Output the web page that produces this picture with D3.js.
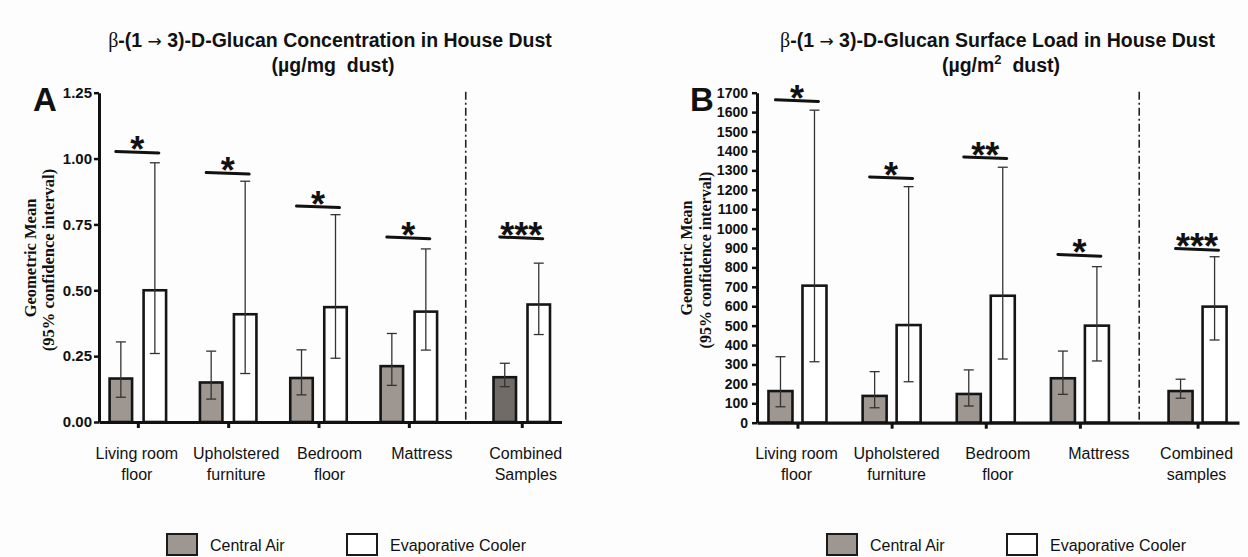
<!DOCTYPE html>
<html><head><meta charset="utf-8">
<script src="https://cdn.jsdelivr.net/npm/d3@7"></script>
<style>
html,body{margin:0;padding:0;background:#fdfdfd;}
svg{display:block;font-family:"Liberation Sans",Arial,sans-serif;}
</style></head>
<body>
<svg id="chart" width="1248" height="557"></svg>
<script>
// ---------- data ----------
const categoriesA = ["Living room|floor", "Upholstered|furniture", "Bedroom|floor", "Mattress", "Combined|Samples"];
const categoriesB = ["Living room|floor", "Upholstered|furniture", "Bedroom|floor", "Mattress", "Combined|samples"];
const seriesNames = ["Central Air", "Evaporative Cooler"];

const centralA    = [0.165, 0.150, 0.167, 0.212, 0.170];
const centralA_lo = [0.094, 0.087, 0.103, 0.139, 0.134];
const centralA_hi = [0.304, 0.269, 0.274, 0.336, 0.223];
const evapA       = [0.500, 0.409, 0.436, 0.419, 0.446];
const evapA_lo    = [0.260, 0.184, 0.242, 0.273, 0.332];
const evapA_hi    = [0.984, 0.914, 0.787, 0.657, 0.603];
const sigA        = ["*", "*", "*", "*", "***"];
const sigA_level  = [1.024, 0.944, 0.817, 0.699, 0.699];
const ticksA      = [0, 0.25, 0.5, 0.75, 1.0, 1.25];

const centralB    = [163, 138, 148, 229, 163];
const centralB_lo = [82, 77, 86, 146, 126];
const centralB_hi = [340, 263, 272, 369, 224];
const evapB       = [706, 503, 654, 500, 598];
const evapB_lo    = [314, 211, 328, 318, 426];
const evapB_hi    = [1610, 1216, 1316, 804, 855];
const sigB        = ["*", "*", "**", "*", "***"];
const sigB_level  = [1659, 1262, 1365, 862, 893];
const ticksB      = d3.range(0, 1701, 100);

// ---------- layout ----------
const slots = [0, 1, 2, 3, 4.25];   // group slot positions (gap before combined)
const dividerSlot = 3.63;

const svg = d3.select("#chart");
svg.append("rect").attr("width", 1248).attr("height", 557).attr("fill", "#fdfdfd");

function panel(cfg) {
  const g = svg.append("g");
  const x = d3.scaleLinear().domain([-0.43, 4.69]).range(cfg.xr);
  const y = d3.scaleLinear().domain([0, cfg.ymax]).range([cfg.y0, cfg.ytop]);

  // titles
  const t = g.append("text").attr("x", cfg.tx).attr("y", 47).attr("text-anchor", "middle")
    .attr("font-size", 19.5).attr("font-weight", "bold").attr("fill", "#111");
  t.append("tspan").attr("font-family", "Liberation Serif, serif").attr("font-weight", "normal").attr("font-size", 20).text("β");
  t.append("tspan").text("-(1 ");
  t.append("tspan").attr("font-weight", "normal").attr("font-family", "DejaVu Sans").attr("font-size", 17).text("→");
  t.append("tspan").text(" 3)-D-Glucan " + cfg.title);
  const t2 = g.append("text").attr("x", cfg.tx2).attr("y", 72).attr("text-anchor", "middle")
    .attr("font-size", 19.5).attr("font-weight", "bold").attr("fill", "#111").attr("xml:space", "preserve");
  cfg.unit(t2);

  // panel letter
  g.append("text").attr("x", cfg.lx).attr("y", 111).attr("font-size", 33).attr("font-weight", "bold")
    .attr("fill", "#111").text(cfg.letter);

  // y axis title
  const yl = g.append("g").attr("font-family", "Liberation Serif, Times New Roman, serif")
    .attr("font-weight", "bold").attr("font-size", cfg.ylfs).attr("fill", "#111");
  yl.append("text").attr("transform", `translate(${cfg.yl1},258) rotate(-90)`).attr("text-anchor", "middle").text("Geometric Mean");
  yl.append("text").attr("transform", `translate(${cfg.yl2},260) rotate(-90)`).attr("text-anchor", "middle").text("(95% confidence interval)");

  // divider
  g.append("line").attr("x1", x(dividerSlot)).attr("x2", x(dividerSlot))
    .attr("y1", cfg.ytop - 1).attr("y2", cfg.y0)
    .attr("stroke", "#222").attr("stroke-width", 1.6).attr("stroke-dasharray", "8,3,2,3");

  // bars
  const bw = cfg.bw, off = cfg.off;
  const series = [
    {v: cfg.c, lo: cfg.clo, hi: cfg.chi, dx: -off, fill: (i) => cfg.cfill(i)},
    {v: cfg.e, lo: cfg.elo, hi: cfg.ehi, dx: off, fill: () => "#ffffff"}
  ];
  series.forEach(s => {
    const gs = g.append("g");
    gs.selectAll("rect").data(s.v).join("rect")
      .attr("x", (d, i) => x(slots[i]) + s.dx - bw / 2)
      .attr("y", d => y(d))
      .attr("width", bw)
      .attr("height", d => y(0) - y(d))
      .attr("fill", (d, i) => s.fill(i))
      .attr("stroke", "#151515").attr("stroke-width", 2.6);
    const eb = gs.selectAll("g.eb").data(s.v).join("g").attr("class", "eb")
      .attr("stroke", "#333").attr("stroke-width", 1.3);
    eb.append("line").attr("x1", (d, i) => x(slots[i]) + s.dx).attr("x2", (d, i) => x(slots[i]) + s.dx)
      .attr("y1", (d, i) => y(s.lo[i])).attr("y2", (d, i) => y(s.hi[i]));
    eb.append("line").attr("x1", (d, i) => x(slots[i]) + s.dx - 5).attr("x2", (d, i) => x(slots[i]) + s.dx + 5)
      .attr("y1", (d, i) => y(s.hi[i])).attr("y2", (d, i) => y(s.hi[i]));
    eb.append("line").attr("x1", (d, i) => x(slots[i]) + s.dx - 5).attr("x2", (d, i) => x(slots[i]) + s.dx + 5)
      .attr("y1", (d, i) => y(s.lo[i])).attr("y2", (d, i) => y(s.lo[i]));
  });

  // significance
  const sg = g.append("g");
  cfg.sig.forEach((s, i) => {
    const cx = x(slots[i]);
    const yy = y(cfg.sigl[i]);
    sg.append("line").attr("x1", cx - 22).attr("x2", cx + 21).attr("y1", yy - 0.8).attr("y2", yy + 0.8)
      .attr("stroke", "#111").attr("stroke-width", 3).attr("stroke-linecap", "round");
    sg.append("text").attr("x", cx - 0.5).attr("y", yy + 10).attr("text-anchor", "middle")
      .attr("font-size", 36).attr("font-weight", "bold").attr("fill", "#111").text(s);
  });

  // y axis
  const ya = g.append("g").attr("transform", `translate(${cfg.xr[0]},0)`)
    .call(d3.axisLeft(y).tickValues(cfg.ticks).tickFormat(cfg.fmt).tickSize(5).tickSizeOuter(0).tickPadding(cfg.tpad));
  ya.select(".domain").attr("stroke", "#111").attr("stroke-width", 3);
  ya.selectAll(".tick line").attr("stroke", "#111").attr("stroke-width", 2.5);
  ya.selectAll(".tick text").attr("font-family", "Liberation Sans, Arial, sans-serif")
    .attr("font-size", cfg.tfs).attr("font-weight", "bold").attr("fill", "#111");

  // x axis
  const xa = g.append("g").attr("transform", `translate(0,${cfg.y0})`)
    .call(d3.axisBottom(x).tickValues(slots).tickFormat("").tickSize(6).tickSizeOuter(0));
  xa.select(".domain").attr("stroke", "#111").attr("stroke-width", 3.2);
  xa.selectAll(".tick line").attr("stroke", "#111").attr("stroke-width", 3);

  // category labels
  cfg.cats.forEach((c, i) => {
    const lines = c.split("|");
    const tx = g.append("text").attr("text-anchor", "middle").attr("font-size", 16).attr("fill", "#111");
    lines.forEach((l, k) => {
      tx.append("tspan").attr("x", x(slots[i]) + cfg.ldx[i]).attr("y", 459 + k * 20.5).text(l);
    });
  });

  // legend
  const lg = g.append("g").attr("font-size", 16).attr("fill", "#111");
  seriesNames.forEach((n, k) => {
    lg.append("rect").attr("x", cfg.leg[k]).attr("y", 534).attr("width", 30).attr("height", 21)
      .attr("fill", k === 0 ? "#9e9791" : "#fff").attr("stroke", "#1a1a1a").attr("stroke-width", 2);
    lg.append("text").attr("x", cfg.leg[k] + 43).attr("y", 551).text(n);
  });
}

panel({
  letter: "A", lx: 33, tx: 330, tx2: 333, title: "Concentration in House Dust",
  unit: (t) => t.text("(µg/mg  dust)"),
  xr: [99, 561.5], y0: 422, ytop: 92.7, ymax: 1.25,
  ticks: ticksA, fmt: d3.format(".2f"), tfs: 15, tpad: 2,
  c: centralA, clo: centralA_lo, chi: centralA_hi, e: evapA, elo: evapA_lo, ehi: evapA_hi,
  cfill: (i) => i === 4 ? "#716b67" : "#9e9791",
  sig: sigA, sigl: sigA_level, bw: 22.5, off: 17,
  cats: categoriesA, ldx: [-1, 8, 11, 13, 4],
  yl1: 36, yl2: 54, ylfs: 16.5,
  leg: [167, 347]
});

panel({
  letter: "B", lx: 690, tx: 997.5, tx2: 1001, title: "Surface Load in House Dust",
  unit: (t) => { t.append("tspan").text("(µg/m"); t.append("tspan").attr("font-size", 13).attr("dy", -8).text("2");
                 t.append("tspan").attr("dy", 8).text("  dust)"); },
  xr: [757, 1239], y0: 422.7, ytop: 92.7, ymax: 1700,
  ticks: ticksB, fmt: d3.format("d"), tfs: 14, tpad: 4,
  c: centralB, clo: centralB_lo, chi: centralB_hi, e: evapB, elo: evapB_lo, ehi: evapB_hi,
  cfill: () => "#9e9791",
  sig: sigB, sigl: sigB_level, bw: 24, off: 17,
  cats: categoriesB, ldx: [-1, 5, 12, 19, -1],
  yl1: 692, yl2: 711, ylfs: 16,
  leg: [827, 1007]
});
</script>
</body></html>
